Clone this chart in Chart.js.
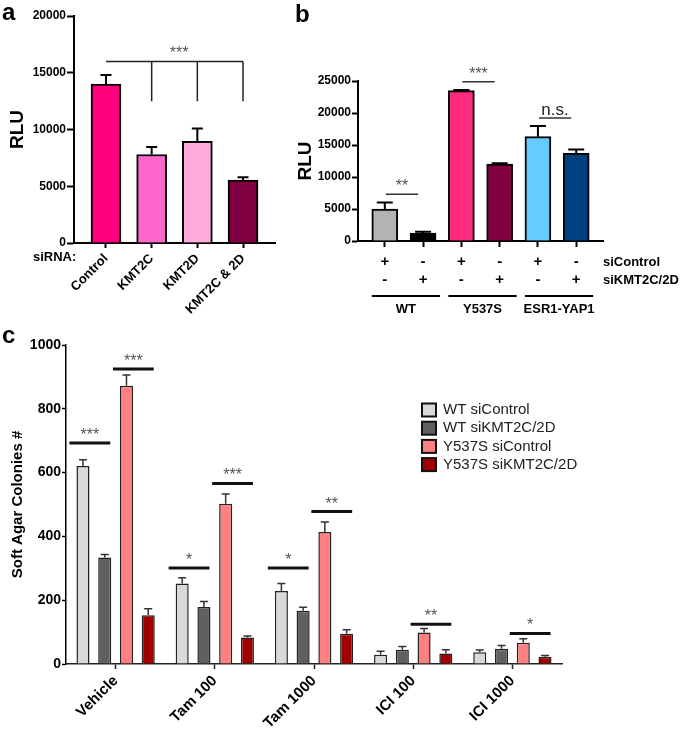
<!DOCTYPE html>
<html>
<head>
<meta charset="utf-8">
<script src="https://cdn.jsdelivr.net/npm/chart.js@4.4.0/dist/chart.umd.min.js"></script>
<style>
  body { margin: 0; background: #fff; }
  #wrap { position: relative; width: 680px; height: 730px; overflow: hidden; font-family: "Liberation Sans", Arial, sans-serif; }
  canvas { position: absolute; }
  .letter { position: absolute; font-weight: bold; font-size: 24px; line-height: 24px; }
</style>
</head>
<body>
<div id="wrap">
  <canvas id="chartA" width="290" height="318" style="left:0;top:0"></canvas>
  <canvas id="chartB" width="390" height="318" style="left:290px;top:0"></canvas>
  <canvas id="chartC" width="680" height="412" style="left:0;top:318px"></canvas>
  <div class="letter" style="left:2px;top:0">a</div>
  <div class="letter" style="left:295px;top:2px">b</div>
  <div class="letter" style="left:2px;top:323px">c</div>
</div>
<script>
// panel a
const labelsA = ['Control', 'KMT2C', 'KMT2D', 'KMT2C & 2D'];
const valuesA = [14000, 7800, 8950, 5550];
const errTopA = [14800, 8450, 10080, 5800];
const colorsA = ['#ff0080', '#ff66cc', '#ffaadd', '#800040'];

// panel b
const siControlB = ['+', '-', '+', '-', '+', '-'];
const siKmtB = ['-', '+', '-', '+', '-', '+'];
const groupsB = ['WT', 'Y537S', 'ESR1-YAP1'];
const valuesB = [5000, 1250, 23500, 12000, 16300, 13700];
const errTopB = [6000, 1450, 23600, 12150, 17950, 14300];
const colorsB = ['#b3b3b3', '#000000', '#ff2a80', '#800040', '#66ccff', '#00407f'];
const sigB = [
  { from: 0, to: 1, value: 7300, text: '**' },
  { from: 2, to: 3, value: 24900, text: '***' },
  { from: 4, to: 5, value: 19200, text: 'n.s.' }
];

// panel c
const labelsC = ['Vehicle', 'Tam 100', 'Tam 1000', 'ICI 100', 'ICI 1000'];
const seriesC = ['WT siControl', 'WT siKMT2C/2D', 'Y537S siControl', 'Y537S siKMT2C/2D'];
const wtControl = [621, 252, 229, 29, 37];
const wtKmt = [334, 179, 167, 45, 48];
const y537Control = [872, 502, 414, 99, 67];
const y537Kmt = [153, 83, 95, 33, 23];
const wtControlErr = [640, 270, 252, 40, 44];
const wtKmtErr = [343, 196, 178, 55, 58];
const y537ControlErr = [906, 533, 445, 111, 79];
const y537KmtErr = [173, 88, 107, 45, 27];
const colorsC = ['#d9d9d9', '#606060', '#ff8080', '#a00000'];
const sigC = [
  { group: 0, from: 0, to: 1, value: 693, text: '***' },
  { group: 0, from: 2, to: 3, value: 925, text: '***' },
  { group: 1, from: 0, to: 1, value: 301, text: '*' },
  { group: 1, from: 2, to: 3, value: 566, text: '***' },
  { group: 2, from: 0, to: 1, value: 301, text: '*' },
  { group: 2, from: 2, to: 3, value: 478, text: '**' },
  { group: 3, from: 2, to: 3, value: 125, text: '**' },
  { group: 4, from: 2, to: 3, value: 96, text: '*' }
];

const FONT = '"Liberation Sans", Arial, sans-serif';
Chart.defaults.font.family = FONT;
Chart.defaults.color = '#000';
Chart.defaults.animation = false;
Chart.defaults.events = [];
Chart.defaults.plugins.legend.display = false;
Chart.defaults.plugins.tooltip.enabled = false;

function errorBars(errs, cap, color, lw) {
  return {
    id: 'errorBars',
    afterDatasetsDraw(chart) {
      const ctx = chart.ctx, y = chart.scales.y;
      ctx.save();
      ctx.strokeStyle = color;
      ctx.lineWidth = lw;
      errs.forEach((list, d) => {
        chart.getDatasetMeta(d).data.forEach((bar, i) => {
          const top = y.getPixelForValue(list[i]);
          ctx.beginPath();
          ctx.moveTo(bar.x, bar.y);
          ctx.lineTo(bar.x, top);
          ctx.moveTo(bar.x - cap / 2, top);
          ctx.lineTo(bar.x + cap / 2, top);
          ctx.stroke();
        });
      });
      ctx.restore();
    }
  };
}

function yScale(max, step, size, width, tickLen, title, titleSize, titlePad, border) {
  return {
    min: 0, max: max,
    afterFit: s => { s.width = width; },
    border: { color: '#000', width: border },
    grid: { drawOnChartArea: false, tickLength: tickLen, tickWidth: border, tickColor: '#000' },
    ticks: {
      stepSize: step, padding: 1, font: { size: size, weight: 'bold' }, color: '#000',
      callback: v => String(v)
    },
    title: { display: true, text: title, padding: { top: titlePad }, font: { size: titleSize, weight: 'bold' }, color: '#000' }
  };
}

// ---- a ----
new Chart(document.getElementById('chartA'), {
  type: 'bar',
  data: {
    datasets: [{
      data: valuesA.map((v, i) => ({ x: i, y: v })),
      backgroundColor: colorsA,
      borderColor: '#000',
      borderWidth: 2,
      barThickness: 30
    }]
  },
  options: {
    responsive: false,
    layout: { padding: { top: 16, right: 15, left: 0, bottom: 0 } },
    scales: {
      x: {
        type: 'linear', min: -0.7, max: 3.7, offset: false, z: 1,
        afterFit: s => { s.height = 75; },
        afterBuildTicks: s => { s.ticks = labelsA.map((_, i) => ({ value: i })); },
        border: { color: '#000', width: 2 },
        grid: { drawOnChartArea: false, offset: false, tickLength: 5, tickWidth: 2, tickColor: '#000' },
        ticks: {
          autoSkip: false, minRotation: 45, maxRotation: 45, padding: 3,
          font: { size: 13, weight: 'bold' }, color: '#000',
          callback: (v, i) => labelsA[i]
        }
      },
      y: yScale(20000, 5000, 12, 74, 7, 'RLU', 19, 6, 2)
    }
  },
  plugins: [errorBars([errTopA], 11, '#000', 2), {
    id: 'notesA',
    afterDatasetsDraw(chart) {
      const ctx = chart.ctx, x = chart.scales.x, y = chart.scales.y;
      const lineY = y.getPixelForValue(16000);
      const dropY = y.getPixelForValue(12500);
      ctx.save();
      ctx.strokeStyle = '#222';
      ctx.lineWidth = 1.5;
      ctx.beginPath();
      ctx.moveTo(x.getPixelForValue(0), lineY);
      ctx.lineTo(x.getPixelForValue(3), lineY);
      [1, 2, 3].forEach(i => {
        ctx.moveTo(x.getPixelForValue(i), lineY);
        ctx.lineTo(x.getPixelForValue(i), dropY);
      });
      ctx.stroke();
      ctx.fillStyle = '#555';
      ctx.font = '16px ' + FONT;
      ctx.textAlign = 'center';
      ctx.fillText('***', x.getPixelForValue(1.6), lineY - 3);
      ctx.fillStyle = '#000';
      ctx.font = 'bold 13px ' + FONT;
      ctx.textAlign = 'left';
      ctx.textBaseline = 'middle';
      ctx.fillText('siRNA:', chart.chartArea.left - 41, chart.chartArea.bottom + 14);
      ctx.restore();
    }
  }]
});

// ---- b ----
new Chart(document.getElementById('chartB'), {
  type: 'bar',
  data: {
    datasets: [{
      data: valuesB.map((v, i) => ({ x: i, y: v })),
      backgroundColor: colorsB,
      borderColor: '#000',
      borderWidth: 2,
      barThickness: 26
    }]
  },
  options: {
    responsive: false,
    layout: { padding: { top: 81, right: 77, left: 0, bottom: 0 } },
    scales: {
      x: {
        type: 'linear', min: -0.7, max: 5.7, offset: false, z: 1,
        afterFit: s => { s.height = 77; },
        afterBuildTicks: s => { s.ticks = valuesB.map((_, i) => ({ value: i })); },
        border: { color: '#000', width: 2 },
        grid: { drawOnChartArea: false, offset: false, tickLength: 6, tickWidth: 2, tickColor: '#000' },
        ticks: {
          autoSkip: false, maxRotation: 0, padding: 6,
          font: { size: 15, weight: 'bold', lineHeight: 1.2 }, color: '#000',
          callback: (v, i) => [siControlB[i], siKmtB[i]]
        }
      },
      y: yScale(25000, 5000, 12, 68, 6, 'RLU', 19, 4, 2)
    }
  },
  plugins: [errorBars([errTopB], 16, '#000', 2), {
    id: 'notesB',
    afterDatasetsDraw(chart) {
      const ctx = chart.ctx, y = chart.scales.y;
      const area = chart.chartArea;
      const bars = chart.getDatasetMeta(0).data;
      ctx.save();
      ctx.strokeStyle = '#333';
      ctx.lineWidth = 1.5;
      ctx.textAlign = 'center';
      sigB.forEach(s => {
        const py = y.getPixelForValue(s.value);
        const x1 = bars[s.from].x + 1, x2 = bars[s.to].x - 5;
        ctx.beginPath();
        ctx.moveTo(x1, py);
        ctx.lineTo(x2, py);
        ctx.stroke();
        if (s.text === 'n.s.') {
          ctx.fillStyle = '#222';
          ctx.font = '17px ' + FONT;
        } else {
          ctx.fillStyle = '#555';
          ctx.font = '16px ' + FONT;
        }
        ctx.fillText(s.text, (x1 + x2) / 2, py - 3);
      });
      ctx.fillStyle = '#000';
      ctx.font = 'bold 13px ' + FONT;
      ctx.textAlign = 'left';
      ctx.textBaseline = 'middle';
      ctx.fillText('siControl', area.right, area.bottom + 21);
      ctx.fillText('siKMT2C/2D', area.right, area.bottom + 39);
      ctx.lineWidth = 2;
      ctx.strokeStyle = '#000';
      ctx.textAlign = 'center';
      groupsB.forEach((g, k) => {
        const a = bars[k * 2], b = bars[k * 2 + 1];
        const x1 = a.x - a.width / 2, x2 = b.x + b.width / 2 + 4;
        const gy = area.bottom + 55;
        ctx.beginPath();
        ctx.moveTo(x1, gy);
        ctx.lineTo(x2, gy);
        ctx.stroke();
        ctx.fillText(g, (x1 + x2) / 2, gy + 13);
      });
      ctx.restore();
    }
  }]
});

// ---- c ----
const valuesC = [wtControl, wtKmt, y537Control, y537Kmt];
new Chart(document.getElementById('chartC'), {
  type: 'bar',
  data: {
    labels: labelsC,
    datasets: valuesC.map((vals, i) => ({
      label: seriesC[i],
      data: vals,
      backgroundColor: colorsC[i],
      borderColor: '#222',
      borderWidth: 1.5,
      categoryPercentage: 0.877,
      barPercentage: 0.6
    }))
  },
  options: {
    responsive: false,
    layout: { padding: { top: 27, right: 118, left: 0, bottom: 0 } },
    scales: {
      x: {
        z: 1,
        afterFit: s => { s.height = 66; },
        border: { color: '#222', width: 1.5 },
        grid: { drawOnChartArea: false, offset: false, tickLength: 5, tickWidth: 1.5, tickColor: '#222' },
        ticks: {
          autoSkip: false, minRotation: 45, maxRotation: 45, padding: 3,
          font: { size: 15, weight: 'bold' }, color: '#000'
        }
      },
      y: yScale(1000, 200, 14, 66, 4, 'Soft Agar Colonies #', 15, 9, 1.5)
    }
  },
  plugins: [errorBars([wtControlErr, wtKmtErr, y537ControlErr, y537KmtErr], 8, '#333', 1.5), {
    id: 'notesC',
    afterDatasetsDraw(chart) {
      const ctx = chart.ctx, y = chart.scales.y;
      ctx.save();
      ctx.strokeStyle = '#111';
      ctx.lineWidth = 3;
      ctx.textAlign = 'center';
      ctx.fillStyle = '#555';
      ctx.font = '16px ' + FONT;
      sigC.forEach(s => {
        const a = chart.getDatasetMeta(s.from).data[s.group];
        const b = chart.getDatasetMeta(s.to).data[s.group];
        const x1 = a.x - a.width / 2 - 7, x2 = b.x + b.width / 2 - 1;
        const py = y.getPixelForValue(s.value);
        ctx.beginPath();
        ctx.moveTo(x1, py);
        ctx.lineTo(x2, py);
        ctx.stroke();
        ctx.fillText(s.text, (x1 + x2) / 2, py - 3);
      });
      // legend
      ctx.font = '15px ' + FONT;
      ctx.textAlign = 'left';
      ctx.textBaseline = 'middle';
      ctx.lineWidth = 2;
      seriesC.forEach((name, i) => {
        const cy = 92 + i * 18.2;
        ctx.fillStyle = colorsC[i];
        ctx.fillRect(422, cy - 6.5, 14, 13);
        ctx.strokeStyle = '#111';
        ctx.strokeRect(422, cy - 6.5, 14, 13);
        ctx.fillStyle = '#222';
        ctx.fillText(name, 443, cy);
      });
      ctx.restore();
    }
  }]
});
</script>
</body>
</html>
